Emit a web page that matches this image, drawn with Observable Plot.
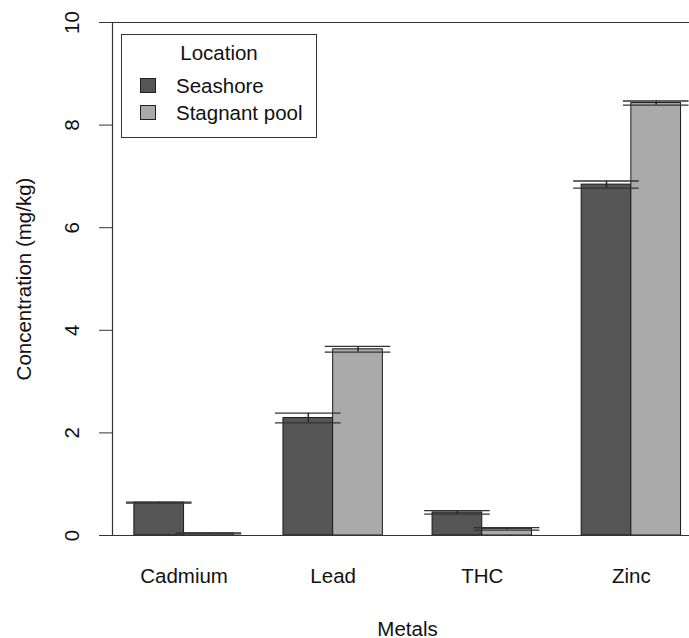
<!DOCTYPE html>
<html><head><meta charset="utf-8">
<script src="https://cdn.jsdelivr.net/npm/d3@7"></script>
<script src="https://cdn.jsdelivr.net/npm/@observablehq/plot@0.6"></script>
<style>
body{margin:0;background:#fff}
#wrap{position:relative;width:689px;height:638px;font-family:"Liberation Sans",Arial,sans-serif;color:#111}
#legend{position:absolute;left:121px;top:34px;width:194px;height:102px;border:1px solid #333;font-size:20.5px;line-height:20.5px}
#legend .t{position:absolute;left:0;width:100%;text-align:center;top:8px}
#legend .sw{position:absolute;left:18px;width:14px;height:13px;border:1px solid #222}
#legend .lb{position:absolute;left:54px;white-space:nowrap}
</style>
</head><body><div id="wrap"></div>
<script>
const metals = ["Cadmium", "Lead", "THC", "Zinc"];
const locations = ["Seashore", "Stagnant pool"];
const seashoreMean = [0.64, 2.29, 0.45, 6.84];
const seashoreSE   = [0.01, 0.095, 0.035, 0.07];
const stagnantMean = [0.04, 3.63, 0.13, 8.43];
const stagnantSE   = [0.01, 0.055, 0.025, 0.04];
const yTicks = [0, 2, 4, 6, 8, 10];
const colors = ["#555555", "#aaaaaa"];
const legendTitle = "Location";
const xLabel = "Metals";
const yLabel = "Concentration (mg/kg)";

const series = [seashoreMean, stagnantMean];
const errs = [seashoreSE, stagnantSE];
const nLoc = locations.length;
// R barplot(beside=TRUE) layout: each bar 1 unit wide, one unit of space between groups
const rows = [];
metals.forEach((m, i) => locations.forEach((loc, j) => {
  const x1 = 1 + i * (nLoc + 1) + j;
  rows.push({metal: m, location: loc, x1, x2: x1 + 1, xc: x1 + 0.5, value: series[j][i], se: errs[j][i]});
}));
const centers = metals.map((m, i) => 1 + i * (nLoc + 1) + nLoc / 2);
const xDomain = [0.56, 12.17];
const capHalf = 0.66;
const fs = 20.5;

const chart = Plot.plot({
  width: 689, height: 638,
  marginLeft: 112, marginRight: 0, marginTop: 22, marginBottom: 103,
  style: {fontFamily: '"Liberation Sans", Arial, sans-serif', fontSize: fs + "px", color: "#111", background: "#fff"},
  x: {domain: xDomain},
  y: {domain: [0, 10]},
  color: {domain: locations, range: colors},
  marks: [
    Plot.rect(rows, {x1: "x1", x2: "x2", y1: 0, y2: "value", fill: "location", stroke: "#1a1a1a", strokeWidth: 1}),
    Plot.ruleX(rows, {x: "xc", y1: d => d.value - d.se, y2: d => d.value + d.se, stroke: "#222", strokeWidth: 1.5}),
    Plot.ruleY(rows, {y: d => d.value + d.se, x1: d => d.xc - capHalf, x2: d => d.xc + capHalf, stroke: "#333", strokeWidth: 1.3}),
    Plot.ruleY(rows, {y: d => d.value - d.se, x1: d => d.xc - capHalf, x2: d => d.xc + capHalf, stroke: "#333", strokeWidth: 1.3}),
    Plot.ruleY([0, 10], {stroke: "#333", strokeWidth: 1.2}),
    Plot.ruleX([xDomain[0]], {y1: 0, y2: 10, stroke: "#333", strokeWidth: 1.2}),
    Plot.axisY(yTicks, {tickSize: 13, tickPadding: 21, tickRotate: -90, tickFormat: d => String(d), fontSize: fs, stroke: "#333", label: null}),
    Plot.axisX(centers, {tickSize: 0, tickPadding: 33, tickFormat: d => metals[centers.indexOf(d)], fontSize: fs, label: null}),
    Plot.text([xLabel], {text: d => d, frameAnchor: "bottom", lineAnchor: "bottom", dx: 6.5, dy: 100, fontSize: fs}),
    Plot.text([yLabel], {text: d => d, frameAnchor: "left", textAnchor: "middle", rotate: -90, lineAnchor: "bottom", dx: -82, fontSize: fs})
  ]
});
const wrap = document.getElementById("wrap");
wrap.appendChild(chart);

const lg = document.createElement("div");
lg.id = "legend";
const t = document.createElement("div");
t.className = "t"; t.textContent = legendTitle;
lg.appendChild(t);
locations.forEach((loc, j) => {
  const sw = document.createElement("div");
  sw.className = "sw"; sw.style.top = (43 + j * 26.5) + "px"; sw.style.background = colors[j];
  const lb = document.createElement("div");
  lb.className = "lb"; lb.style.top = (41 + j * 27) + "px"; lb.textContent = loc;
  lg.appendChild(sw); lg.appendChild(lb);
});
wrap.appendChild(lg);
</script>
</body></html>
